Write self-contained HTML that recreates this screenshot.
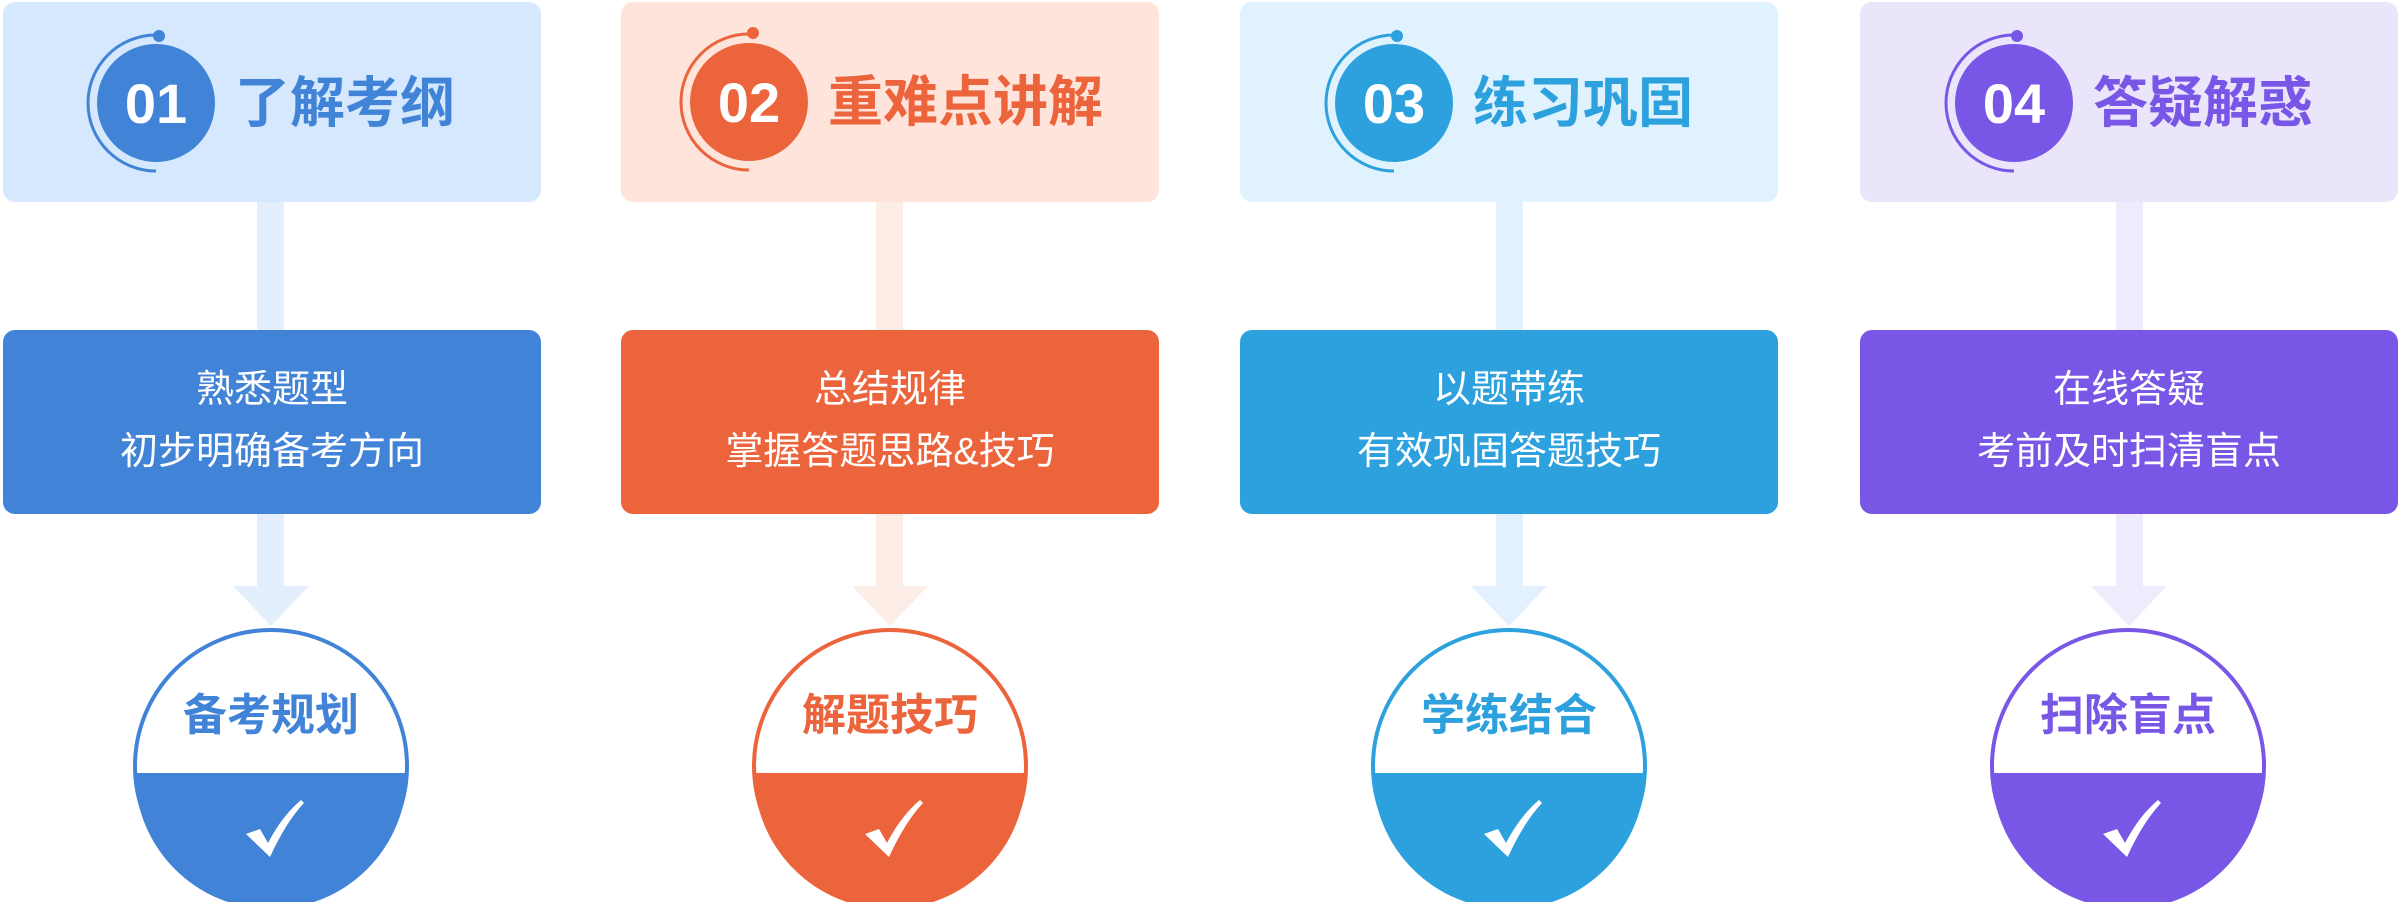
<!DOCTYPE html>
<html><head><meta charset="utf-8"><style>
html,body{margin:0;padding:0;background:#fff;width:2400px;height:902px;overflow:hidden}
svg{display:block}
text{font-family:"Liberation Sans","Noto Sans CJK SC",sans-serif}
</style></head><body>
<svg width="2400" height="902" viewBox="0 0 2400 902" xmlns="http://www.w3.org/2000/svg">
<!-- column template values computed by hand -->
<!-- Col 1 -->
<g>
<rect x="257" y="202" width="27" height="386" fill="#E3EFFD"/>
<polygon points="233,586 309,586 271,626" fill="#E3EFFD"/>
<rect x="3" y="2" width="538" height="200" rx="12" fill="#D5E8FD"/>
<path d="M156,35 A68,68 0 0 0 156,171" fill="none" stroke="#4183D7" stroke-width="3"/>
<circle cx="159" cy="36" r="6" fill="#4183D7"/>
<circle cx="156" cy="103" r="59" fill="#4183D7"/>
<text x="156" y="123" font-size="56" font-weight="bold" fill="#fff" text-anchor="middle">01</text>
<text x="235" y="122" font-size="55" font-weight="bold" fill="#4183D7">了解考纲</text>
<rect x="3" y="330" width="538" height="184" rx="12" fill="#4183D7"/>
<text x="272" y="402" font-size="38" fill="#fff" text-anchor="middle">熟悉题型</text>
<text x="272" y="464" font-size="38" fill="#fff" text-anchor="middle">初步明确备考方向</text>
<circle cx="271" cy="766" r="136" fill="#fff" stroke="#4183D7" stroke-width="4"/>
<path d="M135,773 L407,773 A136,136 0 0 1 135,773 Z" fill="#4183D7"/>
<text x="271" y="730" font-size="44" font-weight="bold" fill="#4183D7" text-anchor="middle">备考规划</text>
<path d="M246,834 L260,829 L268,843 Q282,816 301,800 L304,803 Q286,822 270,857 Z" fill="#fff"/>
</g>
<!-- Col 2 -->
<g>
<rect x="876" y="202" width="27" height="386" fill="#FDEDE7"/>
<polygon points="852,586 928,586 890,626" fill="#FDEDE7"/>
<rect x="621" y="2" width="538" height="200" rx="12" fill="#FEE4DA"/>
<path d="M749,34 A68,68 0 0 0 749,170" fill="none" stroke="#EC643C" stroke-width="3"/>
<circle cx="753" cy="33" r="6" fill="#EC643C"/>
<circle cx="749" cy="102" r="59" fill="#EC643C"/>
<text x="749" y="122" font-size="56" font-weight="bold" fill="#fff" text-anchor="middle">02</text>
<text x="828" y="121" font-size="55" font-weight="bold" fill="#EC643C">重难点讲解</text>
<rect x="621" y="330" width="538" height="184" rx="12" fill="#EC643C"/>
<text x="890" y="402" font-size="38" fill="#fff" text-anchor="middle">总结规律</text>
<text x="890" y="464" font-size="38" fill="#fff" text-anchor="middle">掌握答题思路&amp;技巧</text>
<circle cx="890" cy="766" r="136" fill="#fff" stroke="#EC643C" stroke-width="4"/>
<path d="M754,773 L1026,773 A136,136 0 0 1 754,773 Z" fill="#EC643C"/>
<text x="890" y="730" font-size="44" font-weight="bold" fill="#EC643C" text-anchor="middle">解题技巧</text>
<path d="M865,834 L879,829 L887,843 Q901,816 920,800 L923,803 Q905,822 889,857 Z" fill="#fff"/>
</g>
<!-- Col 3 -->
<g>
<rect x="1496" y="202" width="27" height="386" fill="#E3F0FD"/>
<polygon points="1471,586 1547,586 1509,626" fill="#E3F0FD"/>
<rect x="1240" y="2" width="538" height="200" rx="12" fill="#DFF2FD"/>
<path d="M1394,35 A68,68 0 0 0 1394,171" fill="none" stroke="#2DA1DE" stroke-width="3"/>
<circle cx="1397" cy="36" r="6" fill="#2DA1DE"/>
<circle cx="1394" cy="103" r="59" fill="#2DA1DE"/>
<text x="1394" y="123" font-size="56" font-weight="bold" fill="#fff" text-anchor="middle">03</text>
<text x="1473" y="122" font-size="55" font-weight="bold" fill="#2DA1DE">练习巩固</text>
<rect x="1240" y="330" width="538" height="184" rx="12" fill="#2DA1DE"/>
<text x="1509" y="402" font-size="38" fill="#fff" text-anchor="middle">以题带练</text>
<text x="1509" y="464" font-size="38" fill="#fff" text-anchor="middle">有效巩固答题技巧</text>
<circle cx="1509" cy="766" r="136" fill="#fff" stroke="#2DA1DE" stroke-width="4"/>
<path d="M1373,773 L1645,773 A136,136 0 0 1 1373,773 Z" fill="#2DA1DE"/>
<text x="1509" y="730" font-size="44" font-weight="bold" fill="#2DA1DE" text-anchor="middle">学练结合</text>
<path d="M1484,834 L1498,829 L1506,843 Q1520,816 1539,800 L1542,803 Q1524,822 1508,857 Z" fill="#fff"/>
</g>
<!-- Col 4 -->
<g>
<rect x="2116" y="202" width="27" height="386" fill="#EFEBFD"/>
<polygon points="2091,586 2167,586 2129,626" fill="#EFEBFD"/>
<rect x="1860" y="2" width="538" height="200" rx="12" fill="#EBE5FC"/>
<path d="M2014,35 A68,68 0 0 0 2014,171" fill="none" stroke="#7856E6" stroke-width="3"/>
<circle cx="2017" cy="36" r="6" fill="#7856E6"/>
<circle cx="2014" cy="103" r="59" fill="#7856E6"/>
<text x="2014" y="123" font-size="56" font-weight="bold" fill="#fff" text-anchor="middle">04</text>
<text x="2093" y="122" font-size="55" font-weight="bold" fill="#7856E6">答疑解惑</text>
<rect x="1860" y="330" width="538" height="184" rx="12" fill="#7856E6"/>
<text x="2129" y="402" font-size="38" fill="#fff" text-anchor="middle">在线答疑</text>
<text x="2129" y="464" font-size="38" fill="#fff" text-anchor="middle">考前及时扫清盲点</text>
<circle cx="2128" cy="766" r="136" fill="#fff" stroke="#7856E6" stroke-width="4"/>
<path d="M1992,773 L2264,773 A136,136 0 0 1 1992,773 Z" fill="#7856E6"/>
<text x="2128" y="730" font-size="44" font-weight="bold" fill="#7856E6" text-anchor="middle">扫除盲点</text>
<path d="M2103,834 L2117,829 L2125,843 Q2139,816 2158,800 L2161,803 Q2143,822 2127,857 Z" fill="#fff"/>
</g>
</svg>
</body></html>
